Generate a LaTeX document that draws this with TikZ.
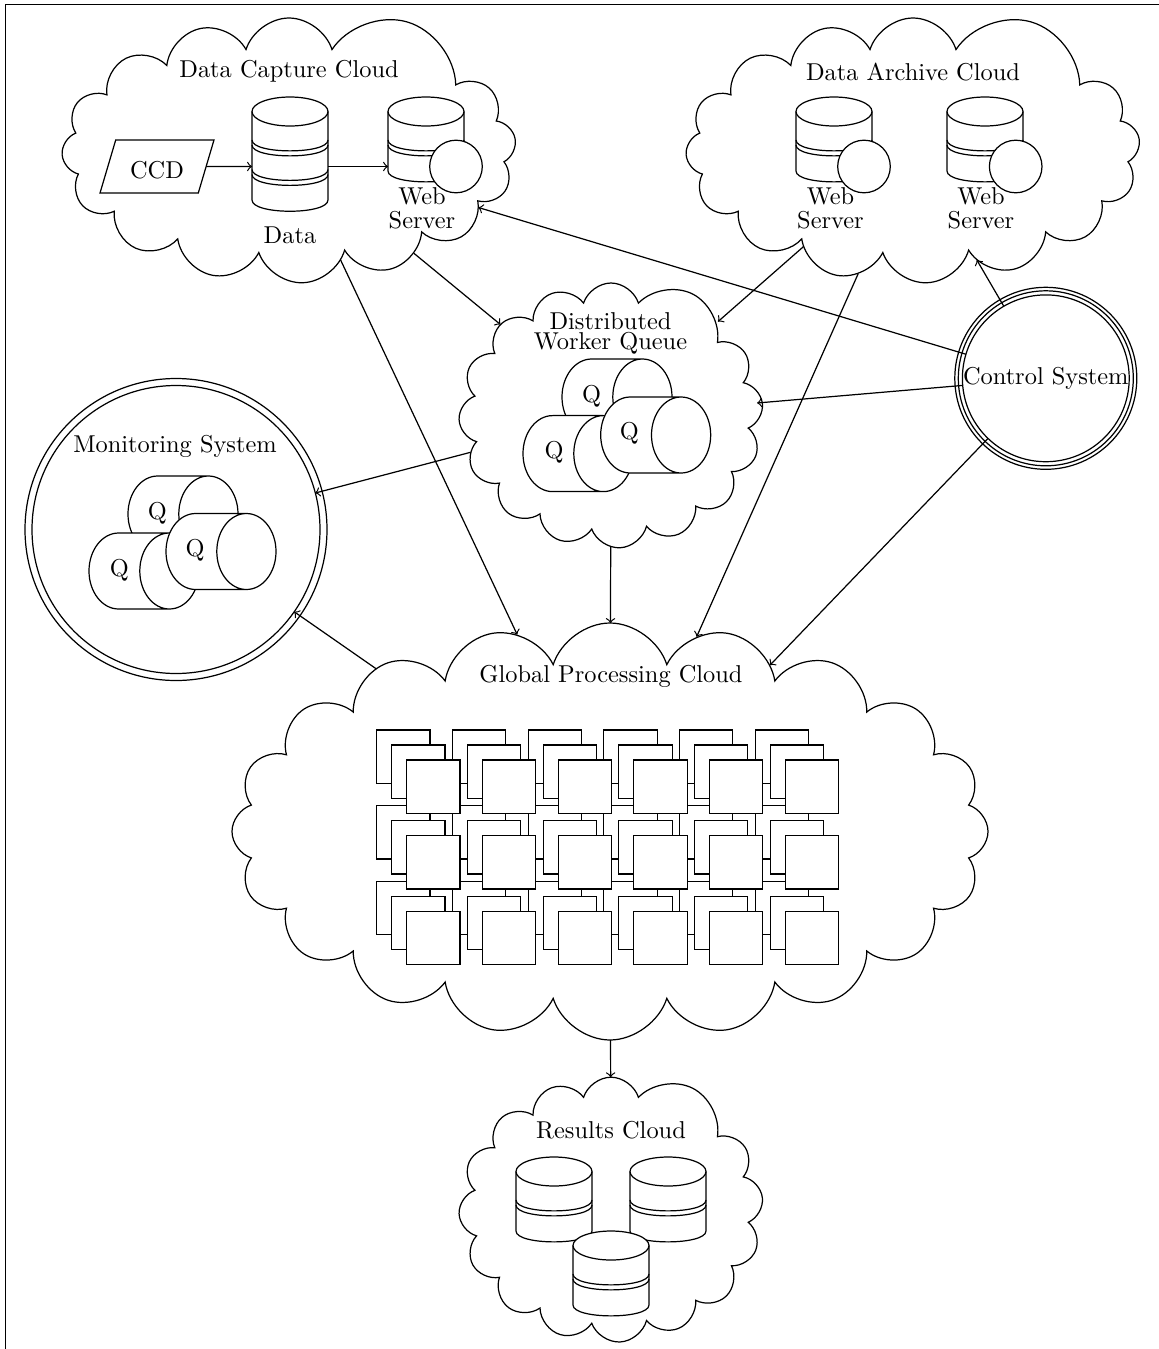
\documentclass[tikz,border=0pt]{standalone}
\usetikzlibrary{shapes.geometric,shapes.symbols}
\newcommand{\pxu}{0.41pt}
\tikzset{
  cloudbox/.style={cloud,draw,cloud puffs=15.7,cloud puff arc=145,cloud ignores aspect,inner sep=0pt,outer sep=0pt},
  lab/.style={inner sep=0pt,outer sep=0pt,align=center,anchor=base},
  labw/.style={lab,font={\baselineskip=9.8pt\relax}},
  labd/.style={lab,font={\baselineskip=8.2pt\relax}},
  ring/.style={circle,draw,inner sep=0pt,outer sep=0pt},
  tile/.style={rectangle,draw,fill=white,inner sep=0pt,outer sep=0pt,minimum size=53.3*\pxu},
  qcyl/.style={cylinder,draw,fill=white,aspect=2.7,minimum height=110*\pxu,minimum width=76*\pxu,inner sep=0pt,outer sep=0pt,anchor=shape center},
  qlab/.style={inner sep=0pt,outer sep=0pt},
  ball/.style={circle,draw,fill=white,inner sep=0pt,outer sep=0pt,minimum size=52.6*\pxu},
  arr/.style={->},
  dbsingle/.pic={
    \fill[white] (-38,14.5) -- (38,14.5) -- (38,74) .. controls (38,88.5) and (-38,88.5) .. (-38,74) -- cycle;
    \draw (-38,14.5) -- (-38,74) .. controls (-38,88.5) and (38,88.5) .. (38,74) -- (38,14.5);
    \draw[fill=white] (0,14.5) ellipse [x radius=38,y radius=14.5];
    \draw (-38,43) .. controls (-38,57.5) and (38,57.5) .. (38,43);
    \draw (-38,48) .. controls (-38,62.5) and (38,62.5) .. (38,48);
  },
  dbdouble/.pic={
    \draw (-38,14.5) -- (-38,103) .. controls (-38,118) and (38,118) .. (38,103) -- (38,14.5);
    \draw (0,14.5) ellipse [x radius=38,y radius=14.5];
    \draw (-38,43) .. controls (-38,57.5) and (38,57.5) .. (38,43);
    \draw (-38,48) .. controls (-38,62.5) and (38,62.5) .. (38,48);
    \draw (-38,72.5) .. controls (-38,87) and (38,87) .. (38,72.5);
    \draw (-38,77.5) .. controls (-38,92) and (38,92) .. (38,77.5);
  }
}
\begin{document}
\begin{tikzpicture}[x=\pxu,y=-\pxu,line width=0.5pt]
\useasboundingbox (0,0) rectangle (1159,1349);
\draw (1159,4.5) -- (5.5,4.5) -- (5.5,1349);
% clouds
\node[cloudbox,minimum width=454*\pxu,minimum height=265*\pxu] (capture) at (289,150.5) {};
\node[cloudbox,minimum width=454*\pxu,minimum height=265*\pxu] (archive) at (913,150.5) {};
\node[cloudbox,minimum width=304*\pxu,minimum height=265*\pxu] (queue) at (611,415.5) {};
\node[cloudbox,cloud puffs=20,minimum width=756*\pxu,minimum height=417*\pxu] (global) at (610,831.5) {};
\node[cloudbox,minimum width=304*\pxu,minimum height=265*\pxu] (results) at (611,1209.7) {};
% capture contents
\node[lab] (captl) at (289,77) {Data Capture Cloud};
\node[trapezium,draw,trapezium left angle=60,trapezium right angle=120,trapezium stretches=true,inner sep=0pt,outer sep=0pt,minimum height=53*\pxu,minimum width=114*\pxu] (ccd) at (157,166.5) {\phantom{CCD}};
\node[lab] (ccdl) at (157,178) {CCD};
\pic at (290,97) {dbdouble};
\coordinate (dataw) at (252,166.5);
\coordinate (datae) at (328,166.5);
\node[lab] (datal) at (290,243) {Data};
\pic at (426,97) {dbsingle};
\coordinate (webw) at (388,166.5);
\node[ball] (wball) at (456,166.5) {};
\node[labw] (webl) at (422,228) {Web\\Server};
\draw[arr] (ccd) -- (dataw);
\draw[arr] (datae) -- (webw);
% archive contents
\node[lab] (archl) at (913,80) {Data Archive Cloud};
\pic at (834,97) {dbsingle};
\node[ball] (aballa) at (864,166.5) {};
\node[labw] (aweba) at (830.5,228) {Web\\Server};
\pic at (985,97) {dbsingle};
\node[ball] (aballb) at (1015.7,166.5) {};
\node[labw] (awebb) at (981,228) {Web\\Server};
% queue contents
\node[labd] (queuel) at (610.5,349) {Distributed\\Worker Queue};
\node[qcyl] (qa) at (617,397) {\phantom{Q}};
\node[qlab] (qal) at (591.7,396) {Q};
\node[qcyl] (qb) at (578,453.6) {\phantom{Q}};
\node[qlab] (qbl) at (554,452.7) {Q};
\node[qcyl] (qc) at (655.7,435) {\phantom{Q}};
\node[qlab] (qcl) at (629.3,433.3) {Q};
% monitoring
\node[ring,minimum size=302*\pxu] (monout) at (176,529.5) {};
\node[ring,minimum size=288*\pxu] (monitor) at (176,529.5) {};
\node[lab] (monl) at (175,452) {Monitoring System};
\node[qcyl] (mqa) at (183,514) {\phantom{Q}};
\node[qlab] (mqal) at (157.3,513) {Q};
\node[qcyl] (mqb) at (144,571) {\phantom{Q}};
\node[qlab] (mqbl) at (119.3,570) {Q};
\node[qcyl] (mqc) at (221,551.5) {\phantom{Q}};
\node[qlab] (mqcl) at (195,550.7) {Q};
% control
\node[ring,minimum size=182*\pxu] (ctlout) at (1045.8,378.3) {};
\node[ring,minimum size=175*\pxu] (ctlmid) at (1045.8,378.3) {};
\node[ring,minimum size=166*\pxu] (control) at (1045.8,378.3) {Control System};
% global
\node[lab] (globl) at (611,682) {Global Processing Cloud};
\foreach \dx/\lay in {-30/a,-15/b,0/c}{
  \foreach \i in {0,...,5}{
    \foreach \j in {0,...,2}{
      \node[tile] (t\lay\i\j) at ({433.4+75.7*\i+\dx},{786.7+75.7*\j+\dx}) {};
    }
  }
}
% results
\node[lab] (resl) at (611,1138) {Results Cloud};
\pic at (554,1157) {dbsingle};
\pic at (668,1157) {dbsingle};
\pic at (611,1231) {dbsingle};
% connectors
\draw[arr] (capture) -- (queue);
\draw[arr] (capture) -- (global);
\draw[arr] (archive) -- (queue);
\draw[arr] (archive) -- (global);
\draw[arr] (control) -- (capture);
\draw[arr] (control) -- (archive);
\draw[arr] (control) -- (queue);
\draw[arr] (control) -- (global);
\draw[arr] (queue) -- (monitor);
\draw[arr] (queue) -- (global);
\draw[arr] (global) -- (monitor);
\draw[arr] (global) -- (results);
\end{tikzpicture}
\end{document}
